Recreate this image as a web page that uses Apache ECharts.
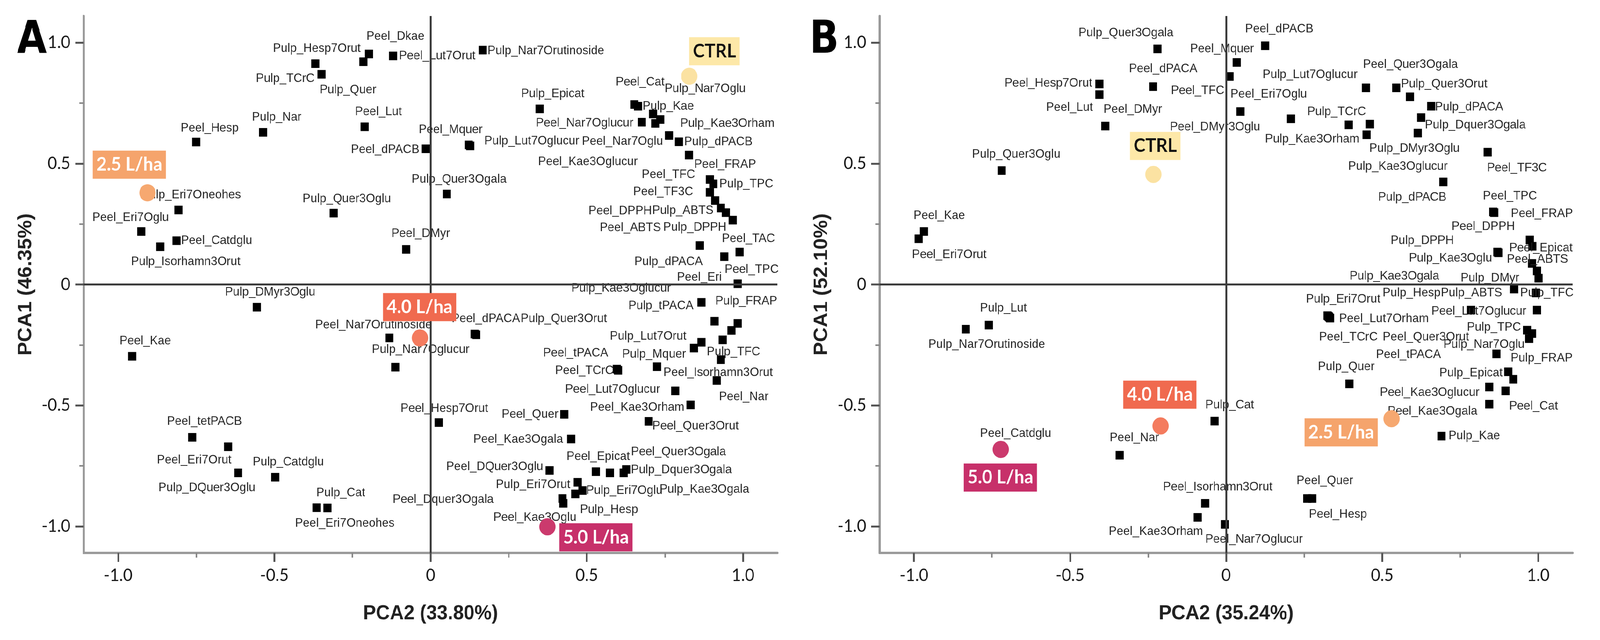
<!DOCTYPE html>
<html>
<head>
<meta charset="utf-8">
<script src="https://cdn.jsdelivr.net/npm/echarts@6/dist/echarts.min.js"></script>
<style>
  html, body { margin: 0; padding: 0; background: #fff; overflow: hidden; }
  #wrap { width: 4318px; height: 1639px; transform-origin: 0 0; }
  #chart { width: 4318px; height: 1639px; }
</style>
</head>
<body>
<div id="wrap"><div id="chart"></div></div>
<script>
// ---- panel A : variable loadings ----
var namesA = ['Peel_Hesp','Pulp_Nar','Peel_Lut','Pulp_TCrC','Pulp_Quer','Pulp_Hesp7Orut','Peel_Dkae','Peel_Lut7Orut','Peel_dPACB','Pulp_Eri7Oneohes',
  'Peel_Eri7Oglu','Pulp_Isorhamn3Orut','Peel_Catdglu','Pulp_Quer3Oglu','Peel_DMyr','Pulp_Nar7Orutinoside','Pulp_Epicat','Peel_Mquer','Pulp_Lut7Oglucur','Pulp_Quer3Ogala',
  'Peel_Cat','Pulp_Kae','Pulp_Nar7Oglu','Pulp_Kae3Orham','Peel_Kae3Oglucur','Peel_Nar7Oglucur','Peel_Nar7Oglu','Pulp_dPACB','Peel_FRAP','Peel_TFC',
  'Pulp_TPC','Peel_TF3C','Pulp_ABTS','Peel_DPPH','Pulp_DPPH','Peel_ABTS','Peel_TAC','Peel_TPC','Pulp_dPACA','Peel_Eri',
  'Pulp_Kae3Oglucur','Pulp_tPACA','Pulp_FRAP','','','Pulp_Lut7Orut','Pulp_Mquer','Pulp_TFC','Peel_Isorhamn3Orut','Peel_TCrC',
  'Peel_tPACA','Peel_Nar','Peel_Lut7Oglucur','Peel_Kae3Orham','Peel_Quer3Orut','Peel_Quer','Peel_Hesp7Orut','Peel_dPACA','Pulp_Quer3Orut','Peel_Kae3Ogala',
  'Peel_DQuer3Oglu','Peel_Epicat','Pulp_Kae3Ogala','Peel_Quer3Ogala','Pulp_Dquer3Ogala','Pulp_Eri7Orut','Pulp_Eri7Oglu','Pulp_Hesp','Peel_Dquer3Ogala','Peel_Kae3Oglu',
  'Peel_Nar7Orutinoside','Pulp_Nar7Oglucur','Pulp_DMyr3Oglu','Peel_Kae','Peel_tetPACB','Peel_Eri7Orut','Pulp_DQuer3Oglu','Pulp_Catdglu','Pulp_Cat','Peel_Eri7Oneohes'];
var pca2A = [-0.750,-0.536,-0.211,-0.369,-0.349,-0.215,-0.197,-0.120,-0.015,-0.807,
  -0.926,-0.865,-0.813,-0.310,-0.078,0.167,0.349,0.122,0.127,0.052,
  0.652,0.664,0.712,0.735,0.719,0.676,0.763,0.795,0.827,0.894,
  0.905,0.894,0.911,0.929,0.945,0.967,0.989,0.940,0.862,0.983,
  0.983,0.867,0.909,0.963,0.935,0.867,0.843,0.929,0.725,0.600,
  0.596,0.916,0.783,0.832,0.698,0.428,0.026,0.141,0.146,0.450,
  0.381,0.529,0.574,0.618,0.626,0.471,0.486,0.463,0.422,0.425,
  -0.132,-0.113,-0.556,-0.955,-0.763,-0.648,-0.616,-0.497,-0.330,-0.365];
var pca1A = [0.589,0.629,0.652,0.913,0.869,0.921,0.953,0.945,0.561,0.308,
  0.219,0.156,0.181,0.295,0.145,0.969,0.726,0.577,0.573,0.374,
  0.744,0.737,0.705,0.682,0.666,0.671,0.616,0.590,0.535,0.434,
  0.416,0.381,0.347,0.316,0.297,0.266,0.134,0.115,0.161,0.003,
  -0.161,-0.074,-0.152,-0.190,-0.229,-0.239,-0.263,-0.311,-0.340,-0.355,
  -0.350,-0.397,-0.440,-0.498,-0.566,-0.537,-0.571,-0.205,-0.208,-0.639,
  -0.769,-0.774,-0.779,-0.779,-0.765,-0.818,-0.852,-0.866,-0.885,-0.905,
  -0.221,-0.342,-0.094,-0.297,-0.632,-0.671,-0.779,-0.797,-0.924,-0.923];
// label placement (left edge / vertical centre of text, px from the marker)
var labelOffA = [[-42,-36],[-30,-39],[-26,-38],[-160,38],[-5,40],[-244,-34],[-7,-45],[16,0],[-202,2],[-100,-39],
  [-132,-36],[-79,38],[12,0],[-84,-37],[-40,-41],[13,2],[-50,-39],[-135,-39],[38,-12],[-95,-38],
  [-50,-58],[12,0],[31,-65],[54,10],[-316,98],[-286,2],[-235,15],[14,0],[14,24],[-184,-13],
  [16,0],[-207,-1],[-170,26],[-357,7],[-169,38],[-359,19],[-48,-34],[1,33],[-177,41],[-164,-16],
  [-449,-90],[-197,9],[2,-51],[0,0],[0,0],[-247,-15],[-194,16],[-38,-20],[17,15],[-170,1],
  [-199,-41],[6,42],[-297,-4],[-271,6],[10,12],[-169,0],[-103,-36],[-62,-39],[120,-41],[-264,1],
  [-279,-10],[-79,-39],[134,42],[20,-54],[13,1],[-221,6],[10,0],[13,40],[-458,3],[-189,36],
  [-200,-33],[-63,-45],[-86,-39],[-34,-39],[-68,-41],[-192,34],[-215,38],[-61,-39],[-30,-39],[-58,40]];

// ---- panel B : variable loadings ----
var namesB = ['Pulp_Quer3Ogala','Peel_dPACA','Peel_Hesp7Orut','Peel_Lut','Peel_DMyr','Pulp_Quer3Oglu','Peel_Kae','Peel_Eri7Orut','Peel_dPACB','Peel_Mquer',
  'Peel_TFC','Peel_Eri7Oglu','Peel_DMyr3Oglu','Pulp_Lut7Oglucur','Pulp_Quer3Orut','Peel_Quer3Ogala','Pulp_dPACA','Pulp_Dquer3Ogala','Pulp_TCrC','Pulp_DMyr3Oglu',
  'Pulp_Kae3Orham','Pulp_Kae3Oglucur','Peel_TF3C','Pulp_dPACB','Peel_FRAP','Peel_TPC','Peel_DPPH','Peel_Epicat','Pulp_Kae3Oglu','Pulp_DPPH',
  'Peel_ABTS','Pulp_DMyr','Pulp_Kae3Ogala','Pulp_ABTS','Pulp_TFC','Peel_Lut7Oglucur','Pulp_Hesp','Pulp_Eri7Orut','Peel_Lut7Orham','Pulp_TPC',
  'Pulp_Nar7Oglu','Pulp_FRAP','Peel_tPACA','Peel_TCrC','Peel_Quer3Orut','Pulp_Quer','Pulp_Epicat','','Peel_Kae3Oglucur','Peel_Cat',
  'Peel_Kae3Ogala','Pulp_Kae','Pulp_Cat','Peel_Quer','Peel_Hesp','Peel_Isorhamn3Orut','Peel_Kae3Orham','Peel_Nar7Oglucur','Pulp_Lut','Pulp_Nar7Orutinoside',
  'Peel_Catdglu','Peel_Nar'];
var pca2B = [-0.220,-0.234,-0.406,-0.406,-0.387,-0.719,-0.968,-0.985,0.125,0.034,
  0.011,0.046,0.208,0.448,0.545,0.589,0.657,0.625,0.393,0.461,
  0.450,0.614,0.838,0.696,0.859,0.856,0.973,0.981,0.872,0.869,
  0.980,0.996,1.001,0.923,0.993,0.996,0.785,0.328,0.330,0.964,
  0.980,0.971,0.866,0.325,0.333,0.395,0.904,0.920,0.843,0.895,
  0.843,0.690,-0.037,0.260,0.276,-0.067,-0.091,-0.004,-0.760,-0.834,
  -0.722,-0.341];
var pca1B = [0.974,0.818,0.829,0.785,0.655,0.471,0.219,0.189,0.987,0.918,
  0.860,0.715,0.685,0.813,0.813,0.776,0.737,0.690,0.660,0.663,
  0.619,0.626,0.547,0.424,0.297,0.300,0.184,0.158,0.131,0.134,
  0.087,0.056,0.026,-0.019,-0.035,-0.106,-0.106,-0.132,-0.135,-0.189,
  -0.203,-0.224,-0.287,-0.129,-0.139,-0.411,-0.361,-0.392,-0.424,-0.440,
  -0.495,-0.627,-0.565,-0.885,-0.885,-0.905,-0.963,-0.992,-0.168,-0.185,
  -0.681,-0.706];
var labelOffB = [[-213,-41],[-65,-46],[-256,-2],[-144,33],[-5,-43],[-80,-42],[-28,-41],[-18,41],[-54,-43],[-126,-35],
  [-158,36],[-27,-44],[-327,21],[-279,-34],[13,-10],[-127,-83],[10,2],[10,19],[-112,-34],[-2,62],
  [-274,11],[-188,85],[-2,40],[-176,39],[45,3],[-28,-41],[-211,-34],[-62,5],[-241,14],[-288,-29],
  [-68,-10],[-206,18],[-510,-5],[-198,10],[-43,0],[-285,3],[-239,-44],[-61,-44],[27,4],[-162,-7],
  [-239,28],[-50,50],[-325,2],[-23,55],[142,49],[-85,-44],[-186,3],[0,0],[-295,14],[10,39],
  [-274,18],[19,-1],[-25,-41],[-29,-45],[-9,41],[-114,-42],[-240,36],[-53,38],[-24,-43],[-101,39],
  [-56,-40],[-27,-45]];

// ---- treatment scores ----
var treatNames = ['CTRL', '2.5 L/ha', '4.0 L/ha', '5.0 L/ha'];
var treatPca2A = [0.828, -0.906, -0.034, 0.374];
var treatPca1A = [0.861, 0.379, -0.221, -1.002];
var treatPca2B = [-0.233, 0.530, -0.210, -0.722];
var treatPca1B = [0.455, -0.555, -0.585, -0.682];
var treatOffA = [[68,-64], [-49,-72], [-1,-79], [131,27]];
var treatOffB = [[5,-73], [-136,35], [-2,-80], [-1,72]];
var treatDot = ['#FBE2A2', '#F6A870', '#F47B5E', '#CB3A6D'];
var treatBox = ['#FDE8A8', '#F5A46C', '#F06A4F', '#C7306A'];
var treatInk = ['#111111', '#ffffff', '#ffffff', '#ffffff'];

// ---- axes ----
var majorTicks = [-1, -0.5, 0, 0.5, 1];
var minorTicks = [-0.75, -0.25, 0.25, 0.75];
var axisTitlesA = ['PCA2 (33.80%)', 'PCA1 (46.35%)'];
var axisTitlesB = ['PCA2 (35.24%)', 'PCA1 (52.10%)'];

var LIM = 1.11;
var tickFont = 'Lato, "Open Sans", sans-serif';
var textFont = '"Liberation Sans", Arial, sans-serif';
var letterFont = 'bold 115px "Liberation Sans Narrow", "DejaVu Sans Condensed", "Liberation Sans", Arial';

// the window can be narrower than the 4318px figure: squeeze it horizontally to fit
var fitScale = Math.min(1, window.innerWidth / 4318);
document.getElementById('wrap').style.transform = 'scaleX(' + fitScale + ')';

function fmt(v) { return v === 0 ? '0' : v.toFixed(1); }

function mainAxis(gi, name, isY) {
  return {
    gridIndex: gi, type: 'value', min: -LIM, max: LIM,
    position: isY ? 'left' : 'bottom',
    axisLine: { show: true, onZero: false, lineStyle: { color: '#9a9a9a', width: 6 } },
    axisTick: { show: true, customValues: majorTicks, length: 23, lineStyle: { color: '#555', width: 5 } },
    axisLabel: { customValues: majorTicks, formatter: fmt, margin: 36, fontSize: 44,
                 color: '#1a1a1a', fontFamily: tickFont },
    splitLine: { show: false },
    name: name, nameLocation: 'middle', nameGap: 130,
    nameTextStyle: { fontSize: 52, fontWeight: 'bold', color: '#222', fontFamily: textFont }
  };
}
function minorAxis(gi, isY) {
  return {
    gridIndex: gi, type: 'value', min: -LIM, max: LIM,
    position: isY ? 'left' : 'bottom',
    axisLine: { show: false, onZero: false },
    axisTick: { show: true, customValues: minorTicks, length: 12, lineStyle: { color: '#888', width: 4 } },
    axisLabel: { show: false },
    splitLine: { show: false }
  };
}

function varSeries(ai, names, xs, ys, offs) {
  return {
    type: 'scatter', xAxisIndex: ai, yAxisIndex: ai, z: 3,
    symbol: 'rect', symbolSize: 22,
    itemStyle: { color: '#000', opacity: 1 },
    label: { show: true, formatter: '{b}', fontSize: 32, fontFamily: textFont,
             color: '#262626', align: 'left', verticalAlign: 'middle' },
    data: names.map(function (n, i) {
      var o = offs[i] || [0, 0];
      return { name: n, value: [xs[i], ys[i]], label: { position: [o[0] + 11, o[1] + 11] } };
    }),
    markLine: {
      silent: true, symbol: ['none', 'none'], label: { show: false },
      lineStyle: { color: '#3c3c3c', width: 5, type: 'solid', opacity: 1 },
      data: [{ xAxis: 0 }, { yAxis: 0 }]
    }
  };
}

// treatment dots sit on their own layer so they cover markers and labels below them
function treatSeries(ai, xs, ys, offs) {
  return {
    type: 'scatter', xAxisIndex: ai, yAxisIndex: ai, zlevel: 1, z: 6,
    symbol: 'circle', symbolSize: 44,
    data: treatNames.map(function (n, i) {
      return {
        name: n, value: [xs[i], ys[i]],
        itemStyle: { color: treatDot[i], opacity: 1 },
        label: {
          show: true, formatter: '{b}', position: [offs[i][0] + 22, offs[i][1] + 22],
          align: 'center', verticalAlign: 'middle',
          fontSize: 48, fontWeight: 'bold', fontFamily: tickFont, lineHeight: 56,
          color: treatInk[i], backgroundColor: treatBox[i], padding: [8, 10]
        }
      };
    })
  };
}

var chart = echarts.init(document.getElementById('chart'));
chart.setOption({
  animation: false,
  backgroundColor: '#fff',
  grid: [
    { left: 226, top: 41, width: 1872, height: 1375 },
    { left: 2374, top: 41, width: 1870, height: 1375 }
  ],
  xAxis: [mainAxis(0, axisTitlesA[0], false), minorAxis(0, false),
          mainAxis(1, axisTitlesB[0], false), minorAxis(1, false)],
  yAxis: [mainAxis(0, axisTitlesA[1], true), minorAxis(0, true),
          mainAxis(1, axisTitlesB[1], true), minorAxis(1, true)],
  graphic: [
    { type: 'text', left: 46, top: 48, style: { text: 'A', font: letterFont, fill: '#000' } },
    { type: 'text', left: 2185, top: 48, style: { text: 'B', font: letterFont, fill: '#000' } }
  ],
  series: [
    varSeries(0, namesA, pca2A, pca1A, labelOffA),
    treatSeries(0, treatPca2A, treatPca1A, treatOffA),
    varSeries(2, namesB, pca2B, pca1B, labelOffB),
    treatSeries(2, treatPca2B, treatPca1B, treatOffB)
  ]
});
</script>
</body>
</html>
